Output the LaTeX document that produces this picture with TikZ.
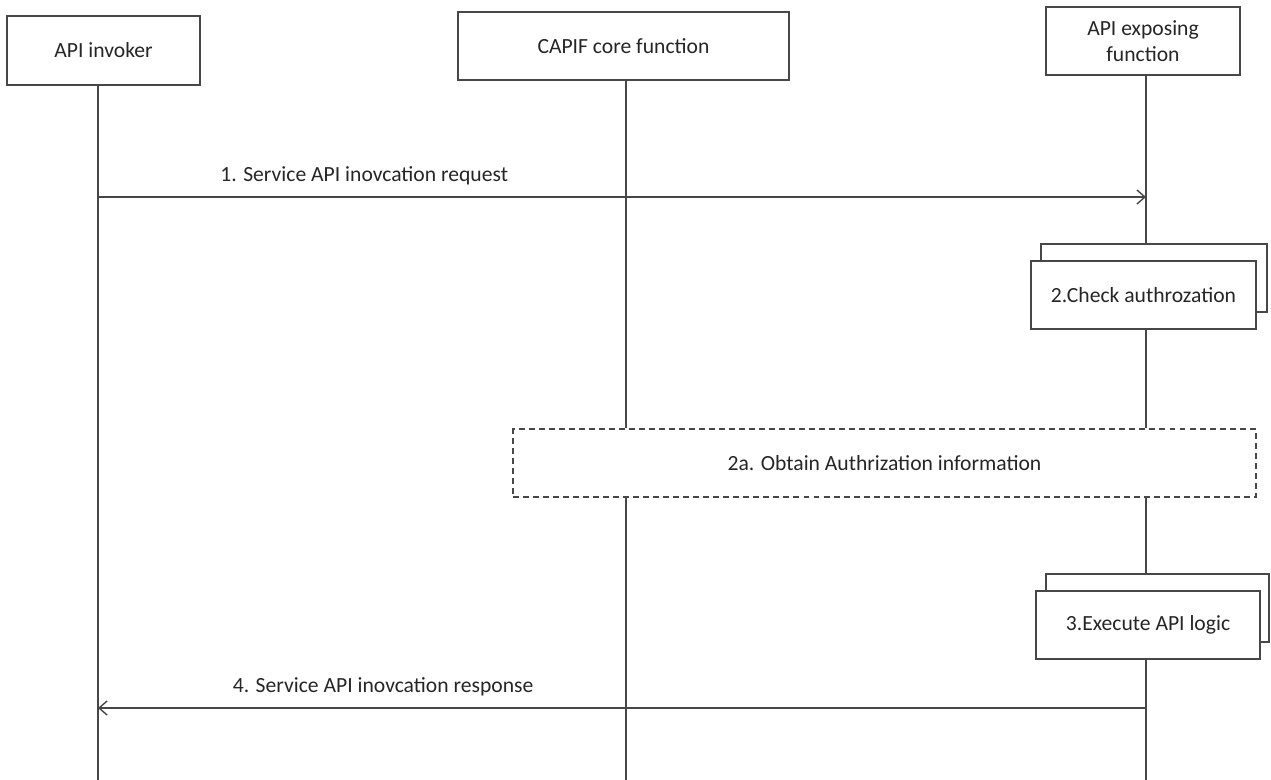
\documentclass[tikz,border=0pt]{standalone}
\usepackage{fontspec}
\setmainfont{Carlito}
\usetikzlibrary{arrows.meta}

\begin{document}
\begin{tikzpicture}[
        x=0.02cm, y=-0.02cm,
        line width=0.8pt, draw=black!72,
        party/.style={draw=black!72, fill=white, align=center, text=black!85, minimum height=1.36cm, font=\fontsize{12.3}{14.5}\selectfont},
        act/.style={party, minimum width=4.5cm},
        life/.style={draw=black!72},
        msg/.style={draw=black!72, -{Straight Barb[length=1.6mm, width=2.8mm]}},
        lbl/.style={text=black!85, font=\fontsize{12.3}{14.5}\selectfont},
    ]
        \useasboundingbox (0,0) rectangle (1271,780);
        % participants
        \node[party, minimum width=3.86cm, minimum height=1.38cm] (invoker) at (103.5,50.5) {API invoker};
        \node[party, minimum width=6.62cm] (capif) at (623.5,46) {CAPIF core function};
        \node[party, minimum width=3.88cm] (aef) at (1143,41) {API exposing\\function};
        \coordinate (invEnd) at (98,780);
        \coordinate (capEnd) at (626,780);
        \coordinate (aefEnd) at (1146,780);
        % local actions
        \node[act, minimum width=4.52cm] (checkback) at (1154,278) {};
        \node[act] (check) at (1143.5,295) {2.Check authrozation};
        \node[act, dashed, dash pattern=on 3.4pt off 2.3pt, minimum width=14.86cm] (obtain) at (884.5,463) {2a. Obtain Authrization information};
        \node[act, minimum width=4.46cm] (execback) at (1157.5,608) {};
        \node[act, minimum width=4.48cm] (exec) at (1148,625) {3.Execute API logic};
        % lifelines
        \draw[life] (invoker.south -| invEnd) -- (invEnd);
        \draw[life] (capif.south -| capEnd) -- (obtain.north -| capEnd);
        \draw[life] (obtain.south -| capEnd) -- (capEnd);
        \draw[life] (aef.south -| aefEnd) -- (checkback.north -| aefEnd);
        \draw[life] (check.south -| aefEnd) -- (obtain.north -| aefEnd);
        \draw[life] (obtain.south -| aefEnd) -- (execback.north -| aefEnd);
        \draw[life] (exec.south -| aefEnd) -- (aefEnd);
        % messages
        \coordinate (req) at (98,197);
        \coordinate (resp) at (98,708);
        \draw[msg] (req) -- node[lbl, pos=0.254, above=3pt] {1. Service API inovcation request} (req -| aefEnd);
        \draw[msg] (resp -| aefEnd) -- node[lbl, pos=0.728, above=3pt] {4. Service API inovcation response} (resp);
    \end{tikzpicture}
\end{document}
